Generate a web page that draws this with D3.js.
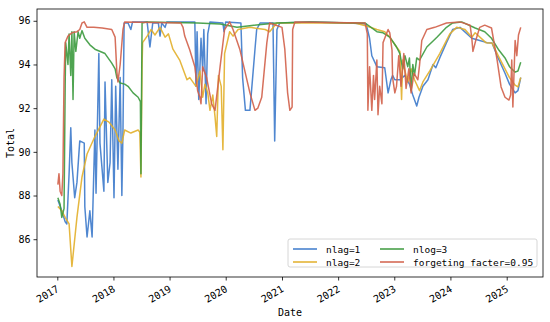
<!DOCTYPE html>
<html><head><meta charset="utf-8">
<script src="https://cdn.jsdelivr.net/npm/d3@7"></script>
<style>body{margin:0;background:#fff}svg{display:block}</style>
</head><body><svg id="c" width="550" height="322"></svg>
<script>
// ---- data (decimal year, value) ----
const seriesNames = ["nlag=1", "nlag=2", "nlog=3", "forgeting facter=0.95"];
const yTicks = [86, 88, 90, 92, 94, 96];
const xTickYears = [2017, 2018, 2019, 2020, 2021, 2022, 2023, 2024, 2025];

const nlag1 = [[2017.01,87.8],[2017.08,87.3],[2017.14,86.8],[2017.17,86.7],[2017.21,89.0],[2017.24,91.1],[2017.26,89.5],[2017.31,87.9],[2017.35,88.6],[2017.40,90.5],[2017.48,90.4],[2017.49,87.5],[2017.53,86.1],[2017.58,87.3],[2017.62,86.1],[2017.67,91.0],[2017.69,88.1],[2017.74,94.5],[2017.76,90.4],[2017.83,88.2],[2017.85,93.2],[2017.90,88.6],[2017.94,89.5],[2017.97,93.3],[2018.01,87.9],[2018.04,93.0],[2018.08,89.2],[2018.12,93.4],[2018.15,88.0],[2018.17,91.0],[2018.19,95.9],[2018.26,95.9],[2018.31,95.6],[2018.34,95.95],[2018.60,95.95],[2018.65,94.8],[2018.70,95.9],[2018.80,95.9],[2018.83,95.3],[2018.86,95.9],[2018.92,95.7],[2018.95,95.95],[2019.45,95.95],[2019.47,93.0],[2019.49,95.5],[2019.52,92.4],[2019.56,95.2],[2019.59,93.7],[2019.61,95.6],[2019.65,92.2],[2019.68,95.4],[2019.72,95.95],[2019.95,95.9],[2019.97,95.5],[2020.00,95.95],[2020.27,95.9],[2020.30,93.4],[2020.35,91.9],[2020.43,91.9],[2020.52,94.7],[2020.55,95.6],[2020.61,95.9],[2020.84,95.9],[2020.87,90.5],[2020.91,95.6],[2020.96,95.9],[2021.5,95.95],[2022.2,95.9],[2022.50,95.85],[2022.56,95.2],[2022.60,94.4],[2022.69,93.9],[2022.83,93.85],[2022.89,92.7],[2022.94,93.3],[2022.97,93.5],[2023.01,93.3],[2023.10,93.3],[2023.19,93.5],[2023.27,93.1],[2023.33,92.6],[2023.40,92.1],[2023.44,92.5],[2023.51,93.0],[2023.60,93.3],[2023.69,94.0],[2023.74,93.85],[2023.81,94.3],[2023.93,95.0],[2024.04,95.6],[2024.17,95.7],[2024.38,95.2],[2024.52,95.1],[2024.65,95.0],[2024.74,94.98],[2024.83,94.4],[2024.97,93.6],[2025.05,93.1],[2025.15,92.7],[2025.20,92.8],[2025.25,93.4]];

const nlag2 = [[2017.01,87.5],[2017.08,87.3],[2017.14,87.0],[2017.21,86.7],[2017.26,84.75],[2017.35,87.0],[2017.44,88.85],[2017.53,89.9],[2017.67,90.7],[2017.83,91.5],[2017.92,91.36],[2018.03,91.0],[2018.10,90.5],[2018.15,90.4],[2018.20,91.0],[2018.31,90.86],[2018.44,91.0],[2018.47,90.9],[2018.49,88.85],[2018.51,94.0],[2018.52,95.0],[2018.60,95.3],[2018.67,95.6],[2018.74,95.35],[2018.83,95.7],[2018.92,95.25],[2018.98,95.4],[2019.06,94.7],[2019.18,94.2],[2019.31,93.3],[2019.36,93.4],[2019.47,93.0],[2019.54,93.7],[2019.59,92.5],[2019.63,93.1],[2019.68,92.7],[2019.72,91.9],[2019.77,92.6],[2019.81,91.6],[2019.84,90.7],[2019.87,93.5],[2019.92,93.0],[2019.95,90.1],[2019.98,94.5],[2020.07,95.5],[2020.13,95.3],[2020.22,95.6],[2020.43,95.7],[2020.70,95.6],[2020.78,95.5],[2020.91,95.9],[2022.30,95.9],[2022.52,95.75],[2022.69,95.6],[2022.83,95.5],[2022.92,95.25],[2023.04,94.8],[2023.10,94.6],[2023.13,92.4],[2023.15,94.2],[2023.19,93.7],[2023.24,93.2],[2023.30,93.8],[2023.36,93.3],[2023.45,92.8],[2023.51,93.2],[2023.63,93.7],[2023.81,94.5],[2023.99,95.4],[2024.11,95.7],[2024.26,95.6],[2024.38,95.25],[2024.44,95.45],[2024.63,95.0],[2024.74,94.98],[2024.86,94.35],[2024.97,93.8],[2025.05,93.4],[2025.15,93.05],[2025.20,92.97],[2025.25,93.4]];

const nlog3 = [[2017.01,87.9],[2017.05,87.6],[2017.08,87.0],[2017.12,87.4],[2017.14,93.0],[2017.15,95.0],[2017.19,94.0],[2017.21,95.4],[2017.24,93.5],[2017.26,95.5],[2017.28,92.4],[2017.30,95.5],[2017.33,94.6],[2017.37,95.5],[2017.40,95.2],[2017.44,95.55],[2017.49,95.2],[2017.58,94.9],[2017.67,94.7],[2017.85,94.5],[2017.97,94.06],[2018.03,93.8],[2018.06,93.4],[2018.12,93.15],[2018.20,93.1],[2018.26,93.0],[2018.35,92.7],[2018.44,92.5],[2018.48,92.3],[2018.49,89.0],[2018.51,95.9],[2018.60,95.95],[2019.50,95.9],[2019.90,95.85],[2020.20,95.7],[2020.50,95.8],[2020.90,95.9],[2021.50,95.95],[2022.30,95.9],[2022.48,95.9],[2022.69,95.5],[2022.80,95.45],[2022.92,95.25],[2023.04,94.8],[2023.10,94.5],[2023.15,93.8],[2023.19,94.4],[2023.24,93.9],[2023.27,94.3],[2023.30,92.8],[2023.33,94.0],[2023.36,93.5],[2023.40,94.3],[2023.45,94.2],[2023.58,94.8],[2023.76,95.25],[2023.93,95.7],[2024.04,95.9],[2024.20,95.95],[2024.44,95.67],[2024.61,95.5],[2024.73,95.2],[2024.86,94.66],[2024.97,94.3],[2025.05,93.9],[2025.15,93.65],[2025.20,93.7],[2025.25,94.1]];

const forget95 = [[2017.01,88.5],[2017.03,89.0],[2017.05,88.2],[2017.08,88.0],[2017.10,89.0],[2017.12,93.4],[2017.14,95.0],[2017.19,95.3],[2017.26,95.45],[2017.35,95.5],[2017.40,95.6],[2017.44,95.9],[2017.48,95.95],[2017.53,95.7],[2017.65,95.7],[2017.80,95.67],[2017.97,95.6],[2018.03,95.25],[2018.06,93.7],[2018.08,93.2],[2018.12,94.0],[2018.17,95.6],[2018.20,95.95],[2019.20,95.9],[2019.24,95.7],[2019.27,95.3],[2019.36,94.66],[2019.45,93.9],[2019.50,92.8],[2019.54,92.5],[2019.56,92.2],[2019.59,93.9],[2019.66,93.4],[2019.75,92.2],[2019.81,91.9],[2019.90,93.9],[2019.98,95.6],[2020.07,95.95],[2020.13,95.6],[2020.25,94.7],[2020.43,92.7],[2020.52,91.9],[2020.57,92.0],[2020.64,92.5],[2020.73,94.98],[2020.78,95.9],[2021.00,95.7],[2021.05,94.7],[2021.10,92.7],[2021.14,91.9],[2021.18,92.05],[2021.19,95.6],[2021.23,95.95],[2022.48,95.9],[2022.52,95.4],[2022.53,91.9],[2022.56,93.9],[2022.60,91.9],[2022.63,93.5],[2022.65,92.4],[2022.69,94.2],[2022.71,91.7],[2022.74,93.0],[2022.78,92.2],[2022.80,95.0],[2022.83,95.2],[2022.89,95.6],[2022.92,95.45],[2022.96,94.66],[2022.97,93.4],[2023.01,92.7],[2023.04,93.0],[2023.08,94.4],[2023.12,93.0],[2023.17,94.5],[2023.21,92.9],[2023.26,93.8],[2023.30,92.7],[2023.35,93.6],[2023.42,93.3],[2023.45,93.97],[2023.49,95.1],[2023.58,95.6],[2023.72,95.7],[2023.93,95.9],[2024.17,95.95],[2024.35,95.8],[2024.38,95.2],[2024.40,94.6],[2024.45,95.1],[2024.52,95.7],[2024.61,95.8],[2024.73,95.67],[2024.83,94.2],[2024.90,92.97],[2024.97,92.5],[2025.04,92.37],[2025.07,92.6],[2025.09,94.2],[2025.11,92.05],[2025.15,95.1],[2025.18,94.4],[2025.21,95.35],[2025.25,95.7]];

const seriesData = [nlag1, nlag2, nlog3, forget95];
const colors = ["#3d7acb", "#e2af2a", "#3c9a3e", "#d2604a"];

// ---- helpers ----
function yearToDate(y) {
  const yr = Math.floor(y), f = y - yr;
  const a = Date.UTC(yr, 0, 1), b = Date.UTC(yr + 1, 0, 1);
  return new Date(a + f * (b - a));
}

const svg = d3.select("#c");
const M = {left: 37, top: 9, right: 543, bottom: 277};
const font = "'DejaVu Sans Mono', 'Liberation Mono', monospace";

const x = d3.scaleUtc()
  .domain([new Date(Date.UTC(2016, 7, 22)), new Date(Date.UTC(2025, 7, 25))])
  .range([M.left, M.right]);
const y = d3.scaleLinear().domain([84.27, 96.54]).range([M.bottom, M.top]);

const line = d3.line().x(d => x(yearToDate(d[0]))).y(d => y(d[1]));

svg.append("defs").append("clipPath").attr("id", "clip")
  .append("rect").attr("x", M.left).attr("y", M.top)
  .attr("width", M.right - M.left).attr("height", M.bottom - M.top);

const g = svg.append("g").attr("clip-path", "url(#clip)");
seriesData.forEach((s, i) => {
  g.append("path").datum(s).attr("d", line)
    .attr("fill", "none").attr("stroke", colors[i])
    .attr("stroke-width", 1.5).attr("stroke-linejoin", "round")
    .attr("stroke-opacity", 0.9);
});

// axes
const xAxis = d3.axisBottom(x).tickValues(xTickYears.map(v => new Date(Date.UTC(v, 0, 1))))
  .tickFormat(d3.utcFormat("%Y")).tickSize(3.5).tickPadding(2);
const gx = svg.append("g").attr("transform", `translate(0,${M.bottom})`).call(xAxis);
gx.select(".domain").remove();
gx.selectAll("line").attr("stroke", "#000").attr("stroke-width", 0.8);
gx.selectAll("text").attr("font-family", font).attr("font-size", 10).attr("fill", "#000")
  .attr("text-anchor", "end").attr("dy", null).attr("y", null)
  .attr("transform", "translate(2,14) rotate(-30)");

const yAxis = d3.axisLeft(y).tickValues(yTicks).tickSize(3.5).tickPadding(3);
const gy = svg.append("g").attr("transform", `translate(${M.left},0)`).call(yAxis);
gy.select(".domain").remove();
gy.selectAll("line").attr("stroke", "#000").attr("stroke-width", 0.8);
gy.selectAll("text").attr("font-family", font).attr("font-size", 10).attr("fill", "#000");

svg.append("rect").attr("x", M.left).attr("y", M.top)
  .attr("width", M.right - M.left).attr("height", M.bottom - M.top)
  .attr("fill", "none").attr("stroke", "#000").attr("stroke-width", 0.8);

svg.append("text").attr("x", (M.left + M.right) / 2).attr("y", 316)
  .attr("text-anchor", "middle").attr("font-family", font).attr("font-size", 10).text("Date");
svg.append("text").attr("transform", `translate(14,${(M.top + M.bottom) / 2}) rotate(-90)`)
  .attr("text-anchor", "middle").attr("font-family", font).attr("font-size", 10).text("Total");

// legend
const lg = svg.append("g");
lg.append("rect").attr("x", 288).attr("y", 239).attr("width", 249).attr("height", 28)
  .attr("rx", 2).attr("fill", "#fff").attr("fill-opacity", 0.85).attr("stroke", "#ccc").attr("stroke-width", 0.8);
const legPos = [[293, 249], [293, 262], [380, 249], [380, 262]];
seriesNames.forEach((n, i) => {
  const [lx, ly] = legPos[i];
  lg.append("line").attr("x1", lx).attr("x2", lx + 24).attr("y1", ly).attr("y2", ly)
    .attr("stroke", colors[i]).attr("stroke-width", 1.5);
  lg.append("text").attr("x", lx + 33).attr("y", ly + 3.5).attr("font-family", font)
    .attr("font-size", 9.5).text(n);
});
</script></body></html>
